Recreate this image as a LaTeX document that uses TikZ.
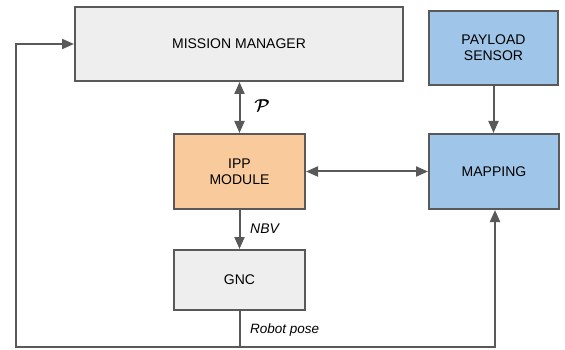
\documentclass[tikz,border=0pt]{standalone}
\usepackage{bm}
\usepackage{fontspec}
\setmainfont{Liberation Sans}
\usetikzlibrary{arrows.meta}
\definecolor{lineg}{HTML}{595959}
\definecolor{boxgray}{HTML}{EEEEEE}
\definecolor{boxorange}{HTML}{F9CB9C}
\definecolor{boxblue}{HTML}{9FC5E8}
\begin{document}
\begin{tikzpicture}[x=1pt,y=-1pt,
  blk/.style={draw=lineg,line width=2pt,align=center,inner sep=0pt,
    font=\fontsize{14}{16}\selectfont},
  conn/.style={draw=lineg,line width=2pt,-{Triangle[length=12pt,width=10pt]}},
  dconn/.style={draw=lineg,line width=2pt,{Triangle[length=12pt,width=10pt]}-{Triangle[length=12pt,width=10pt]}},
  lbl/.style={font=\fontsize{14}{16}\selectfont\itshape,anchor=west,inner sep=0pt}]
\useasboundingbox (0,0) rectangle (565,350);
\node[blk,fill=boxgray,minimum width=328pt,minimum height=74pt] (mm) at (239,44) {MISSION MANAGER};
\node[blk,fill=boxblue,minimum width=129pt,minimum height=74pt] (ps) at (493.5,48) {PAYLOAD\\SENSOR};
\node[blk,fill=boxorange,minimum width=131pt,minimum height=75pt] (ipp) at (239.5,171.5) {IPP\\MODULE};
\node[blk,fill=boxblue,minimum width=130pt,minimum height=75pt] (map) at (494,171.5) {MAPPING};
\node[blk,fill=boxgray,minimum width=131pt,minimum height=60pt] (gnc) at (239.5,280) {GNC};
\coordinate (bl) at (16,347);
\coordinate (bm) at (239.5,347);
\coordinate (br) at (495,347);
\draw[dconn] (mm.south -| ipp.north) -- (ipp.north);
\draw[dconn] (ipp.east) -- (map.west);
\draw[conn] (ps.south) -- (ps.south |- map.north);
\draw[conn] (ipp.south) -- (gnc.north);
\draw[draw=lineg,line width=2pt] (gnc.south) -- (bm);
\draw[conn] (bm) -- (br) -- (br |- map.south);
\draw[conn] (bm) -- (bl) -- (bl |- mm.west) -- (mm.west);
\node[font=\fontsize{18}{20}\selectfont] (p) at (262,106) {$\bm{\mathcal{P}}$};
\node[lbl] (nbv) at (250,229) {NBV};
\node[lbl,font=\fontsize{13.5}{15}\selectfont\itshape] (rp) at (250,330) {Robot pose};
\end{tikzpicture}
\end{document}
